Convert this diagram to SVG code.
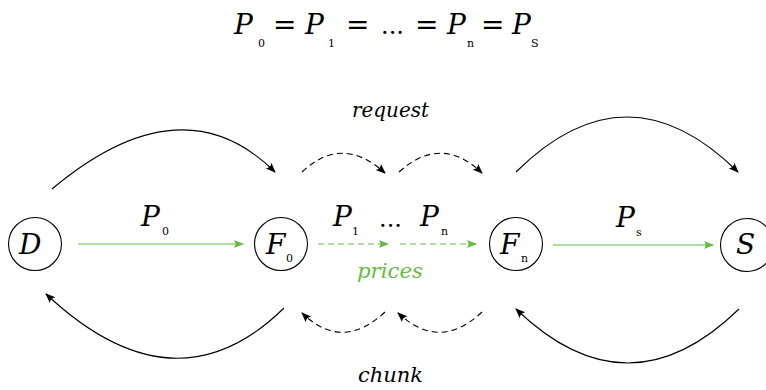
<svg xmlns="http://www.w3.org/2000/svg" width="766" height="390" viewBox="0 0 766 390">
<style>
.m{font-family:"DejaVu Serif","Liberation Serif",serif;font-style:italic;fill:#000}
.big{font-size:28px}
.sub{font-family:"DejaVu Serif","Liberation Serif",serif;font-size:11px;fill:#000}
.op{font-family:"DejaVu Serif","Liberation Serif",serif;font-size:28px;fill:#000}
.dots{font-family:"DejaVu Serif","Liberation Serif",serif;font-size:24px;fill:#000}
.lbl{font-family:"DejaVu Serif","Liberation Serif",serif;font-style:italic;font-size:21px}
.node{fill:#fff;stroke:#000;stroke-width:1.1}
.k{fill:none;stroke:#000;stroke-width:1.1}
.kd{fill:none;stroke:#000;stroke-width:1.1;stroke-dasharray:6 4}
.g{fill:none;stroke:#66bb44;stroke-width:1.2}
.gd{fill:none;stroke:#66bb44;stroke-width:1.2;stroke-dasharray:6 4}
</style>
<defs>
<marker id="ak" viewBox="-10 -5 12 10" refX="0" refY="0" markerWidth="12" markerHeight="10" markerUnits="userSpaceOnUse" orient="auto">
<path d="M1,0 L-9,-4 Q-6,0 -9,4 Z" fill="#000"/>
</marker>
<marker id="ag" viewBox="-10 -5 12 10" refX="0" refY="0" markerWidth="12" markerHeight="10" markerUnits="userSpaceOnUse" orient="auto">
<path d="M1,0 L-9,-4 Q-6,0 -9,4 Z" fill="#66bb44"/>
</marker>
</defs>
<g id="equation">
<text class="m big" x="234" y="34">P</text><text class="sub" x="258" y="47">0</text>
<text class="op" x="273" y="34">=</text>
<text class="m big" x="305" y="34">P</text><text class="sub" x="328" y="47">1</text>
<text class="op" x="346" y="34">=</text>
<text class="dots" x="381" y="34">...</text>
<text class="op" x="415" y="34">=</text>
<text class="m big" x="447" y="34">P</text><text class="sub" x="467" y="47">n</text>
<text class="op" x="481" y="34">=</text>
<text class="m big" x="512" y="34">P</text><text class="sub" x="531" y="47">S</text>
</g>
<g id="connectors">
<path class="k" d="M52,189 Q182,80 275,172" marker-end="url(#ak)"/>
<path class="kd" d="M302,172 Q342,134 385,173" marker-end="url(#ak)"/>
<path class="kd" d="M399,172 Q441,134 482,173" marker-end="url(#ak)"/>
<path class="k" d="M516,172 Q627,62 738,172" marker-end="url(#ak)"/>
<path class="k" d="M284,308 Q175,415 46,294" marker-end="url(#ak)"/>
<path class="kd" d="M385,312 Q342,352 302,313" marker-end="url(#ak)"/>
<path class="kd" d="M482,312 Q440,352 398,313" marker-end="url(#ak)"/>
<path class="k" d="M739,309 Q628,417 516,309" marker-end="url(#ak)"/>
<path class="g" d="M78,244 L243,244" marker-end="url(#ag)"/>
<path class="gd" d="M318,244 L388,244" marker-end="url(#ag)"/>
<path class="gd" d="M400,244 L476,244" marker-end="url(#ag)"/>
<path class="g" d="M553,245 L713,245" marker-end="url(#ag)"/>
</g>
<g id="labels">
<text class="m big" x="141" y="226">P</text><text class="sub" x="162" y="235">0</text>
<text class="m big" x="333" y="226">P</text><text class="sub" x="352" y="235">1</text>
<text class="dots" x="379" y="227">...</text>
<text class="m big" x="420" y="226">P</text><text class="sub" x="441" y="235">n</text>
<text class="m big" x="616" y="227">P</text><text class="sub" x="636" y="236">s</text>
<text class="lbl" x="352" y="117" textLength="77" lengthAdjust="spacingAndGlyphs" fill="#000">request</text>
<text class="lbl" x="358" y="382" textLength="65" lengthAdjust="spacingAndGlyphs" fill="#000">chunk</text>
<text class="lbl" x="357" y="278" textLength="66" lengthAdjust="spacingAndGlyphs" fill="#66bb44">prices</text>
</g>
<g id="D"><circle class="node" cx="35" cy="244" r="26.5"/><text class="m big" x="19" y="254">D</text></g>
<g id="F0"><circle class="node" cx="281" cy="244" r="26.5"/><text class="m big" x="266" y="254">F</text><text class="sub" x="286" y="262">0</text></g>
<g id="Fn"><circle class="node" cx="516" cy="244" r="26.5"/><text class="m big" x="500" y="254">F</text><text class="sub" x="521" y="262">n</text></g>
<g id="S"><circle class="node" cx="747" cy="245" r="26.5"/><text class="m big" x="736" y="254">S</text></g>
</svg>
